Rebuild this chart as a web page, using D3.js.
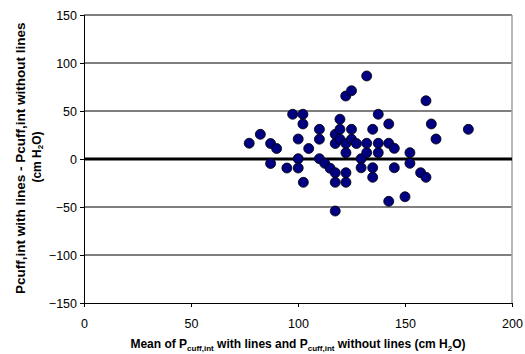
<!DOCTYPE html>
<html lang="en">
<head>
<meta charset="utf-8">
<script src="https://cdn.jsdelivr.net/npm/d3@7"></script>
<style>
  body { margin: 0; background: #fff; }
  svg { display: block; font-family: "Liberation Sans", Arial, sans-serif; }
</style>
</head>
<body>
<script>
    const meanVals = [77.2, 82.4, 87.2, 90.0, 87.2, 94.8, 97.5, 102.3, 102.3, 100.1,
        105.0, 100.1, 100.1, 102.5, 110.0, 110.0, 110.0, 112.5, 115.0, 117.4,
        117.4, 117.4, 117.4, 117.4, 119.6, 119.6, 119.6, 122.4, 122.4, 122.4,
        122.4, 125.0, 125.0, 127.3, 122.3, 125.0, 132.1, 129.5, 129.5, 137.5,
        142.4, 134.9, 132.1, 137.5, 142.4, 145.0, 132.1, 137.5, 134.9, 134.9,
        145.0, 152.3, 152.3, 157.3, 159.8, 142.4, 150.0, 159.8, 162.3, 164.5,
        179.6];
    const diffVals = [16.4, 25.7, 16.1, 10.9, -4.7, -9.4, 46.6, 46.6, 36.5, 20.8,
        10.9, 0.3, -9.4, -24.3, 30.9, 20.6, 0.3, -4.5, -9.7, -14.3,
        -24.3, -54.2, 25.7, 16.1, 41.4, 30.9, 20.6, 16.1, 6.5, -14.3,
        -24.3, 30.9, 20.6, 16.1, 65.6, 71.1, 86.5, 0.3, -9.1, 46.6,
        36.5, 30.9, 16.4, 16.4, 16.4, 11.1, 6.6, 6.6, -9.1, -19.1,
        -9.1, 6.6, -4.5, -14.3, -19.1, -44.1, -39.3, 60.7, 36.5, 20.8,
        30.9];
    const xTicks = [0, 50, 100, 150, 200];
    const yTicks = [-150, -100, -50, 0, 50, 100, 150];

    const w = 525
    const h = 354
    const margin = {left: 84, right: 13, top: 15, bottom: 51}

    const xScale = d3.scaleLinear()
        .domain([0, 200])
        .range([margin.left, w - margin.right])
    const yScale = d3.scaleLinear()
        .domain([-150, 150])
        .range([h - margin.bottom, margin.top])

    const svg = d3.select('body')
        .append('svg')
        .attr('width', w)
        .attr('height', h)

    // gridlines
    svg.append('g')
        .selectAll('line')
        .data(yTicks.filter(d => d !== 0 && d !== -150))
        .enter()
        .append('line')
        .attr('x1', xScale(0))
        .attr('x2', xScale(200))
        .attr('y1', d => yScale(d))
        .attr('y2', d => yScale(d))
        .attr('stroke', '#000')
        .attr('stroke-width', 1)

    // right border of plot area
    svg.append('line')
        .attr('x1', xScale(200))
        .attr('x2', xScale(200))
        .attr('y1', yScale(150))
        .attr('y2', yScale(-150))
        .attr('stroke', '#a0a0a0')
        .attr('stroke-width', 1.5)

    // axes
    svg.append('g')
        .attr('transform', `translate(0,${yScale(-150)})`)
        .call(d3.axisBottom(xScale).tickValues(xTicks).tickSize(4).tickPadding(12))
    svg.append('g')
        .attr('transform', `translate(${xScale(0)},0)`)
        .call(d3.axisLeft(yScale).tickValues(yTicks).tickSize(4).tickPadding(3))

    svg.selectAll('.domain').attr('stroke', '#000')
    svg.selectAll('.tick line').attr('stroke', '#000')
    svg.selectAll('.tick text')
        .attr('fill', '#000')
        .style('font-size', '12.5px')
        .style('font-family', '"Liberation Sans", Arial, sans-serif')

    // zero line
    svg.append('line')
        .attr('x1', xScale(0))
        .attr('x2', xScale(200))
        .attr('y1', yScale(0))
        .attr('y2', yScale(0))
        .attr('stroke', '#000')
        .attr('stroke-width', 3)

    // points
    svg.append('g')
        .selectAll('circle')
        .data(meanVals)
        .enter()
        .append('circle')
        .attr('cx', d => xScale(d))
        .attr('cy', (d, i) => yScale(diffVals[i]))
        .attr('r', 5)
        .attr('fill', '#000080')
        .attr('stroke', '#000')
        .attr('stroke-width', 0.8)

    // x title
    const xt = svg.append('text')
        .attr('x', (xScale(0) + xScale(200)) / 2)
        .attr('y', 348)
        .attr('text-anchor', 'middle')
        .style('font-size', '12px')
        .style('font-weight', 'bold')
    xt.append('tspan').text('Mean of P')
    xt.append('tspan').attr('dy', 2.5).style('font-size', '8px').text('cuff,int')
    xt.append('tspan').attr('dy', -2.5).text(' with lines and P')
    xt.append('tspan').attr('dy', 2.5).style('font-size', '8px').text('cuff,int')
    xt.append('tspan').attr('dy', -2.5).text(' without lines (cm H')
    xt.append('tspan').attr('dy', 2.5).style('font-size', '8px').text('2')
    xt.append('tspan').attr('dy', -2.5).text('O)')

    // y title, two lines
    svg.append('text')
        .attr('transform', 'translate(25,294) rotate(-90)')
        .attr('text-anchor', 'start')
        .style('font-size', '13.5px')
        .style('font-weight', 'bold')
        .text('Pcuff,int with lines - Pcuff,int without lines')
    const yt = svg.append('text')
        .attr('transform', 'translate(41,157) rotate(-90)')
        .attr('text-anchor', 'middle')
        .style('font-size', '12px')
        .style('font-weight', 'bold')
    yt.append('tspan').text('(cm H')
    yt.append('tspan').attr('dy', 2).style('font-size', '8px').text('2')
    yt.append('tspan').attr('dy', -2).text('O)')
</script>
</body>
</html>
